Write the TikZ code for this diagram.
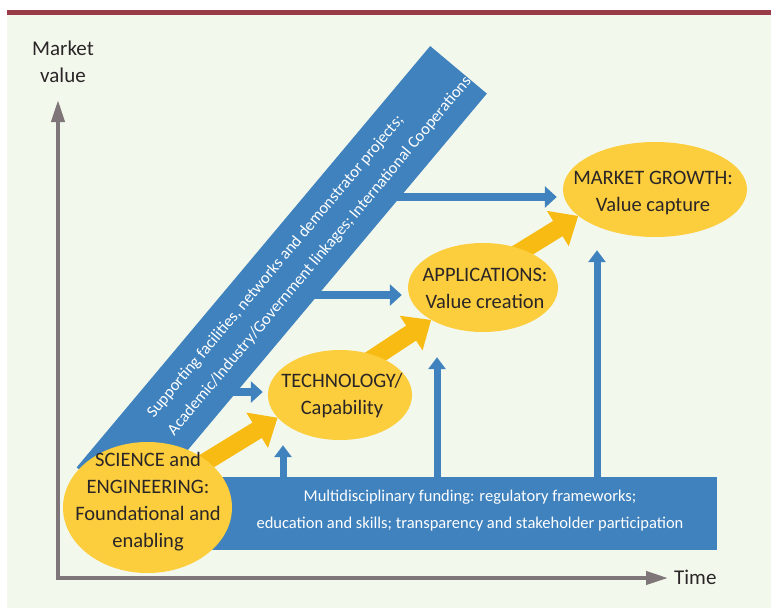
\documentclass[tikz,border=0pt]{standalone}
\usepackage{fontspec}
\setmainfont{Carlito}
\usetikzlibrary{arrows.meta,shapes.geometric,calc}
\definecolor{bg}{HTML}{F3F8EC}
\definecolor{redline}{HTML}{9A3C48}
\definecolor{bandblue}{HTML}{3F82BE}
\definecolor{ellyellow}{HTML}{FCCD3C}
\definecolor{arryellow}{HTML}{F7BB14}
\definecolor{axisgray}{HTML}{7E7679}
\definecolor{txt}{HTML}{2A2627}
\pgfdeclarelayer{lblue}
\pgfdeclarelayer{lband}
\pgfdeclarelayer{lyellow}
\pgfsetlayers{lblue,lband,lyellow,main}
\begin{document}
\begin{tikzpicture}[x=1pt,y=-1pt,
  ell/.style={ellipse, fill=ellyellow, inner sep=0pt},
  elltext/.style={align=center, text=txt, font=\fontsize{20.5}{27}\selectfont, inner sep=0pt},
  bandtext/.style={text=white, font=\fontsize{16.5}{27}\selectfont, inner sep=0pt},
  bandbox/.style={fill=bandblue, inner sep=0pt},
  barrow/.style={draw=bandblue, line width=8pt, -{Triangle[length=12pt,width=21pt]}},
  vbarrow/.style={draw=bandblue, line width=7pt, -{Triangle[length=12pt,width=17pt]}},
  yarrow/.style={draw=arryellow, line width=18pt, -{Triangle[length=24pt,width=40pt]}, shorten <=-10pt},
  axisline/.style={draw=axisgray, line width=4pt, line join=miter, {Triangle[length=22pt,width=13pt]}-{Triangle[length=22pt,width=13pt]}}
]
\useasboundingbox (0,0) rectangle (771,608);
\begin{pgfonlayer}{lblue}
\fill[white] (0,0) rectangle (771,608);
\fill[bg] (7,14) rectangle (771,608);
\fill[redline] (7,9.5) rectangle (771,14.5);
\end{pgfonlayer}

% ellipses
\node[ell, minimum width=169pt, minimum height=131pt] (sci) at (147.5,507.5) {};
\node[ell, minimum width=144pt, minimum height=90pt] (tech) at (340,395) {};
\node[ell, minimum width=150pt, minimum height=89pt] (app) at (483,287.5) {};
\node[ell, minimum width=184pt, minimum height=95pt] (mg) at (655,189.5) {};

\node[elltext] at (148,501.5) {SCIENCE and\\ENGINEERING:\\Foundational and\\enabling};
\node[elltext] at (342,396) {TECHNOLOGY/\\Capability};
\node[elltext] at (485,288.5) {APPLICATIONS:\\Value creation};
\node[elltext] at (653,192.5) {MARKET GROWTH:\\Value capture};

% bands
\begin{pgfonlayer}{lband}
\node[bandbox, rotate=50, minimum width=550pt, minimum height=74pt] (diag) at (281.75,280.5) {};
\node[bandbox, anchor=north west, minimum width=567pt, minimum height=73pt] (hband) at (150,477) {};
\node[bandtext, rotate=50, anchor=west, align=left] (diagtext) at ($(diag.center)!188.3pt!(diag.west)$)
  {Supporting facilities, networks and demonstrator projects;\\Academic/Industry/Government linkages; International Cooperations};
\node[bandtext, align=center] (htext) at (470,510.5)
  {Multidisciplinary funding: regulatory frameworks;\\education and skills; transparency and stakeholder participation};
\end{pgfonlayer}

% blue arrows
\begin{pgfonlayer}{lblue}
\coordinate (h1) at (385,197);
\coordinate (h2) at (300,295);
\coordinate (h3) at (225,392);
\draw[barrow, shorten >=6pt] (h1) -- (h1 -| mg.west);
\draw[barrow, shorten >=6pt] (h2) -- (h2 -| app.west);
\draw[barrow, shorten >=5pt] (h3) -- (h3 -| tech.west);
\coordinate (v1) at (283,500);
\coordinate (v2) at (437,500);
\coordinate (v3) at (597,500);
\draw[vbarrow, shorten >=5pt] (v1) -- (v1 |- tech.south);
\draw[vbarrow, shorten >=25pt] (v2) -- (v2 |- app.south);
\draw[vbarrow, shorten >=13pt] (v3) -- (v3 |- mg.south);
\end{pgfonlayer}

% yellow arrows
\begin{pgfonlayer}{lyellow}
\draw[yarrow] (sci.38) -- (tech.200);
\draw[yarrow] (tech.47) -- (app.212);
\draw[yarrow] (app.43) -- (mg.199);
\end{pgfonlayer}

% axes
\node[text=txt, align=center, inner sep=0pt, font=\fontsize{21}{27}\selectfont] (mv) at (63,61.5) {Market\\value};
\node[text=txt, inner sep=0pt, anchor=west, font=\fontsize{21}{27}\selectfont] (time) at (674,577) {Time};
\coordinate (origin) at (58,578);
\coordinate (ytip) at (58,100);
\coordinate (xtip) at (668,578);
\draw[axisline] (ytip) -- (origin) -- (xtip);
\end{tikzpicture}
\end{document}
